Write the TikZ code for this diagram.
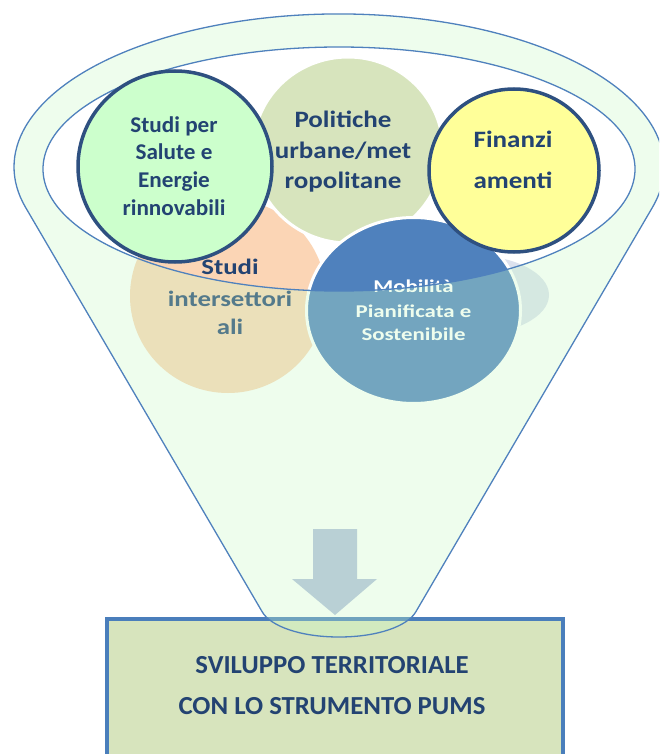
\documentclass[tikz,border=0pt]{standalone}
\usepackage{fontspec}
\setmainfont{Carlito}
\newfontfamily\fA{Carlito}[FakeStretch=1.03]
\newfontfamily\fB{Carlito}[FakeStretch=1.15]
\newfontfamily\fC{Carlito}[FakeStretch=1.22]
\newfontfamily\fD{Carlito}[FakeStretch=1.27]
\definecolor{navy}{HTML}{234372}
\definecolor{ringblue}{HTML}{2E5080}
\definecolor{funline}{HTML}{4F81BD}
\definecolor{boxfill}{HTML}{D7E4BD}
\definecolor{boxline}{HTML}{4A7EBB}
\definecolor{salute}{HTML}{CCFFCC}
\definecolor{yellowc}{HTML}{FFFF99}
\definecolor{olivec}{HTML}{D7E4BD}
\definecolor{peach}{HTML}{FBD5B5}
\definecolor{mobblue}{HTML}{4F81BD}
\definecolor{faint}{HTML}{DCE1EE}
\definecolor{tint}{HTML}{C8FAC6}
\definecolor{arrowc}{HTML}{B9D0D5}
\tikzset{
  txt/.style={anchor=base, inner sep=0pt, text=navy},
  saltxt/.style={txt, font=\fA\bfseries\fontsize{22.5pt}{27pt}\selectfont},
  poltxt/.style={txt, font=\fB\bfseries\fontsize{23.5pt}{30pt}\selectfont},
  fintxt/.style={txt, font=\fB\bfseries\fontsize{23.5pt}{30pt}\selectfont},
  inttxt/.style={txt, font=\fC\bfseries\fontsize{22pt}{30pt}\selectfont},
  mobtxt/.style={txt, text=white, font=\fD\bfseries\fontsize{18pt}{24pt}\selectfont},
  boxtxt/.style={txt, font=\fA\bfseries\fontsize{26pt}{30pt}\selectfont},
  funedge/.style={draw=funline, line width=1.3pt},
  ringc/.style={draw=ringblue, line width=3.5pt},
  whitering/.style={draw=white, line width=3pt}
}
\begin{document}
\begin{tikzpicture}[x=1pt,y=-1pt]
\path[use as bounding box] (0,0) rectangle (659,754);
\fill[white] (0,0) rectangle (659,754);
\clip (0,0) rectangle (659,754);

% result box
\node[draw=boxline, line width=4pt, fill=boxfill, minimum width=456pt,
      minimum height=170pt, anchor=north west, inner sep=0pt] (box) at (105,617) {};
\node[boxtxt] (t1) at (332,673) {SVILUPPO TERRITORIALE};
\node[boxtxt] (t2) at (332,714) {CON LO STRUMENTO PUMS};

% faint background shape
\fill[faint] (470,295) ellipse [x radius=79pt, y radius=40pt];

% back circles
\fill[peach] (228,296) ellipse [x radius=98pt, y radius=97pt];
\path[whitering, fill=olivec] (348,150) ellipse [x radius=95pt, y radius=93pt];
\path[whitering, fill=mobblue] (413.5,310.5) ellipse [x radius=107pt, y radius=93pt];

\node[poltxt] (p1) at (343,128) {Politiche};
\node[poltxt] (p2) at (343,159) {urbane/met};
\node[poltxt] (p3) at (343,188) {ropolitane};

\node[inttxt] (i1) at (230,274) {Studi};
\node[inttxt] (i2) at (230,306) {intersettori};
\node[inttxt] (i3) at (230,334) {ali};

\node[mobtxt] (m1) at (413.5,292) {Mobilità};
\node[mobtxt] (m2) at (413.5,317) {Pianificata e};
\node[mobtxt] (m3) at (413.5,340.5) {Sostenibile};

% translucent funnel body
\fill[tint, fill opacity=0.3, even odd rule]
  (25.7,207.6) -- (262.3,612) .. controls (270.5,626) and (300,637) .. (339,637)
  .. controls (378,637) and (407.5,626) .. (415.7,612) -- (652.3,207.6)
  arc[start angle=-15.4, end angle=195.4, x radius=325pt, y radius=153pt] -- cycle
  (339,169) ellipse [x radius=296pt, y radius=122pt];

% arrow
\fill[arrowc] (313,529) -- (357,529) -- (357,579) -- (377,579) -- (335,615)
  -- (292,579) -- (313,579) -- cycle;

% funnel outlines
\path[funedge]
  (25.7,207.6) -- (262.3,612) .. controls (270.5,626) and (300,637) .. (339,637)
  .. controls (378,637) and (407.5,626) .. (415.7,612) -- (652.3,207.6)
  arc[start angle=-15.4, end angle=195.4, x radius=325pt, y radius=153pt] -- cycle;
\path[funedge] (339,169) ellipse [x radius=296pt, y radius=122pt];

% front circles
\path[ringc, fill=salute] (175,166.5) ellipse [x radius=97pt, y radius=95.5pt];
\path[ringc, fill=yellowc] (514,170.5) ellipse [x radius=85pt, y radius=81.5pt];

\node[saltxt] (s1) at (174,133) {Studi per};
\node[saltxt] (s2) at (174,160) {Salute e};
\node[saltxt] (s3) at (174,187.5) {Energie};
\node[saltxt] (s4) at (174,215.5) {rinnovabili};

\node[fintxt] (f1) at (513,148) {Finanzi};
\node[fintxt] (f2) at (513,188) {amenti};
\end{tikzpicture}
\end{document}
